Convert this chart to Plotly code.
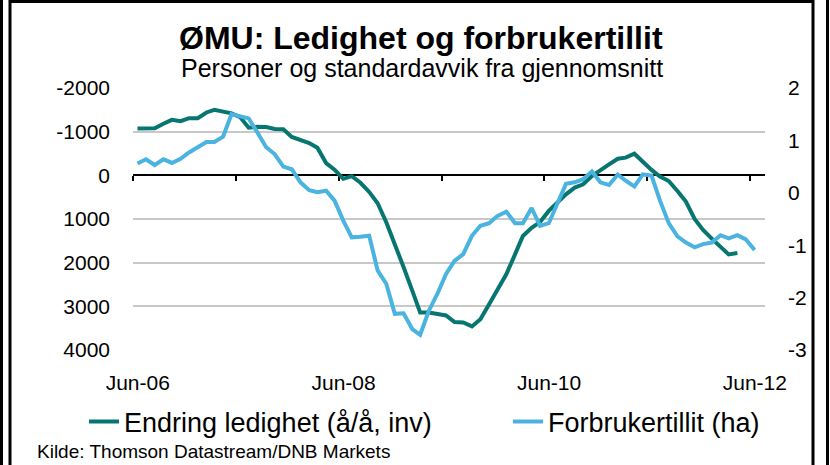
import pandas as pd
import plotly.graph_objects as go

# ---------------- data ----------------
ledighet = [  # Endring ledighet (å/å, inv), left axis, monthly from Jun-06
    -1070, -1070, -1080, -1180, -1270, -1240, -1310, -1310, -1440, -1500,
    -1470, -1420, -1330, -1090, -1110, -1105, -1060, -1055, -880, -810,
    -740, -630, -280, -130, 80, 20, 170, 380, 640, 1080,
    1560, 2100, 2640, 3140, 3140, 3170, 3210, 3360, 3370, 3460,
    3295, 2950, 2610, 2265, 1810, 1390, 1200, 1070, 815, 625,
    435, 280, 205, 15, -125, -250, -380, -405, -495, -305,
    -125, 30, 130, 360, 600, 1000, 1250, 1450, 1650, 1810,
    1780,
]
tillit = [  # Forbrukertillit (ha), right axis, monthly from Jun-06
    0.56, 0.64, 0.53, 0.64, 0.57, 0.65, 0.77, 0.87, 0.97, 0.97,
    1.07, 1.50, 1.46, 1.42, 1.15, 0.87, 0.74, 0.50, 0.45, 0.20,
    0.05, 0.01, 0.04, -0.15, -0.53, -0.85, -0.84, -0.82, -1.48, -1.74,
    -2.31, -2.30, -2.60, -2.71, -2.25, -1.93, -1.55, -1.30, -1.17, -0.82,
    -0.63, -0.58, -0.44, -0.36, -0.58, -0.58, -0.29, -0.63, -0.58, -0.21,
    0.17, 0.20, 0.26, 0.41, 0.20, 0.15, 0.35, 0.23, 0.12, 0.35,
    0.33, -0.15, -0.58, -0.83, -0.95, -1.04, -0.98, -0.95, -0.81, -0.87,
    -0.81, -0.89, -1.09,
]
months = pd.date_range("2006-06-01", periods=len(tillit), freq="MS") + pd.Timedelta(days=16)
dates_l = list(months[: len(ledighet)])
dates_t = list(months)

year_ticks = ["2006-06-01", "2007-06-01", "2008-06-01", "2009-06-01",
              "2010-06-01", "2011-06-01", "2012-06-01"]
label_pos = ["2006-06-18", "2008-06-18", "2010-06-18", "2012-06-18"]
label_txt = ["Jun-06", "Jun-08", "Jun-10", "Jun-12"]
left_vals = [-2000, -1000, 0, 1000, 2000, 3000, 4000]
left_txt = ["-2000", "-1000", "0", "1000", "2000", "3000", "4000"]
right_vals = [-3, -2, -1, 0, 1, 2]
right_txt = ["-3", "-2", "-1", "0", "1", "2"]

title = "ØMU: Ledighet og forbrukertillit"
subtitle = "Personer og standardavvik fra gjennomsnitt"
source = "Kilde: Thomson Datastream/DNB Markets"
name_l = "Endring ledighet (å/å, inv)"
name_t = "Forbrukertillit (ha)"

GREEN = "#077670"
BLUE = "#4AB3DF"
FONT = "Liberation Sans, Arial, sans-serif"

# ---------------- layout geometry ----------------
W, H = 830, 465
ML, MR, MT, MB = 133, 65, 88, 115
PW, PH = W - ML - MR, H - MT - MB
xr = ["2006-06-01", "2012-07-24"]
yl_range = [4000, -2000]
yr_range = [-3, 2]


def px(xp):
    return (xp - ML) / PW


def py(yp):
    return (H - MB - yp) / PH


fig = go.Figure()
fig.add_trace(go.Scatter(x=dates_l, y=ledighet, name=name_l, mode="lines",
                         line=dict(color=GREEN, width=4), xaxis="x", yaxis="y",
                         legend="legend"))
fig.add_trace(go.Scatter(x=dates_t, y=tillit, name=name_t, mode="lines",
                         line=dict(color=BLUE, width=4), xaxis="x2", yaxis="y2",
                         legend="legend2"))

zero_pos = (yl_range[0] - 0) / (yl_range[0] - yl_range[1])

frame = []
lw = 3
for xpix in (1.5, 827.5):
    frame.append(dict(type="line", xref="paper", yref="paper",
                      x0=px(xpix), x1=px(xpix), y0=py(0), y1=py(H),
                      line=dict(color="black", width=lw)))
frame.append(dict(type="rect", xref="paper", yref="paper",
                  x0=px(10), x1=px(813), y0=py(1.5), y1=py(H + 10),
                  line=dict(color="black", width=lw), fillcolor="rgba(0,0,0,0)"))

leg_common = dict(orientation="h", xanchor="left", yanchor="middle",
                  font=dict(size=27, family=FONT), bgcolor="rgba(0,0,0,0)")

fig.update_layout(
    width=W, height=H,
    margin=dict(l=ML, r=MR, t=MT, b=MB, pad=0, autoexpand=False),
    paper_bgcolor="white", plot_bgcolor="white",
    font=dict(family=FONT, color="black", size=21),
    showlegend=True,
    legend=dict(x=px(84), y=py(422), **leg_common),
    legend2=dict(x=px(508), y=py(422), **leg_common),
    xaxis=dict(range=xr, type="date", showgrid=False, zeroline=False, showline=False,
               tickvals=label_pos, ticktext=label_txt, ticks="", automargin=False,
               ticklabelstandoff=18, tickfont=dict(size=21)),
    xaxis2=dict(range=xr, type="date", overlaying="x", anchor="free", position=zero_pos,
                showgrid=False, zeroline=False, showline=True, linecolor="black", linewidth=2,
                tickvals=year_ticks, showticklabels=False, ticks="outside", ticklen=5,
                tickwidth=2, tickcolor="black", layer="below traces", automargin=False),
    yaxis=dict(range=yl_range, tickvals=left_vals, ticktext=left_txt, showgrid=True,
               gridcolor="#C8C8C8", gridwidth=1.6, zeroline=False, showline=False, ticks="",
               ticklabelstandoff=22, tickfont=dict(size=21), automargin=False),
    yaxis2=dict(range=yr_range, overlaying="y", side="right", anchor="x2",
                tickvals=right_vals, ticktext=right_txt, showgrid=False, zeroline=False,
                showline=False, ticks="", ticklabelstandoff=22, tickfont=dict(size=21),
                automargin=False),
    shapes=frame,
    annotations=[
        dict(text="<b>" + title + "</b>", xref="paper", yref="paper", x=px(421), y=py(38),
             xanchor="center", yanchor="middle", showarrow=False,
             font=dict(size=32, family=FONT)),
        dict(text=subtitle, xref="paper", yref="paper", x=px(422), y=py(68),
             xanchor="center", yanchor="middle", showarrow=False,
             font=dict(size=25, family=FONT)),
        dict(text=source, xref="paper", yref="paper", x=px(35), y=py(452),
             xanchor="left", yanchor="middle", showarrow=False,
             font=dict(size=19, family=FONT)),
    ],
)

fig.write_html("out.html", config={"displayModeBar": False},
               post_script="document.body.style.margin='0px';document.body.style.overflow='hidden';")
